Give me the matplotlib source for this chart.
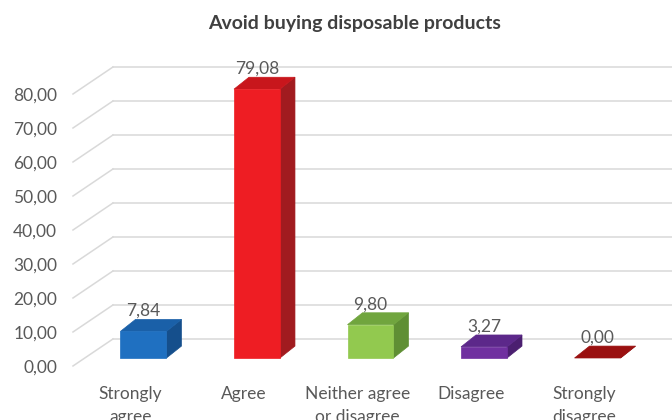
import matplotlib
matplotlib.use('Agg')
import matplotlib.pyplot as plt
from matplotlib.patches import Polygon

# data
categories = ['Strongly\nagree', 'Agree', 'Neither agree\nor disagree', 'Disagree', 'Strongly\ndisagree']
values = [7.84, 79.08, 9.80, 3.27, 0.00]
yticks = [0, 10, 20, 30, 40, 50, 60, 70, 80]
title = 'Avoid buying disposable products'

# colours: front, side, top
colors = [
    ('#1f70c1', '#154f8c', '#1a60a8'),
    ('#ee1d23', '#a11b1f', '#c8161c'),
    ('#92c94f', '#5f8f34', '#70a53e'),
    ('#7030a0', '#4b1f70', '#5c288a'),
    ('#a31313', '#7a0e0e', '#9a1010'),
]

plt.rcParams['font.family'] = ['Lato', 'DejaVu Sans']
txt = '#595959'
fs = 12.5

fig = plt.figure(figsize=(6.72, 4.2), dpi=100)
ax = fig.add_axes([0, 0, 1, 1])
ax.set_xlim(-1.264, 4.656)
ax.set_ylim(-18.24, 105.3)
ax.axis('off')

# fake 3d geometry (data units)
bar_w = 0.405
bar_dx, bar_dy = 0.132, 3.5
front_x, front_dy = -0.621, -2.35
back_x, back_dy = -0.269, 5.59

# walls / gridlines
for t in yticks:
    ax.plot([front_x, back_x], [t + front_dy, t + back_dy], color='#d9d9d9', lw=1.1, zorder=1)
    ax.plot([back_x, 4.7], [t + back_dy, t + back_dy], color='#d9d9d9', lw=1.1, zorder=1)
    ax.text(front_x - 0.14, t + front_dy - 0.6, f'{t:.2f}'.replace('.', ','), ha='right',
            va='center', fontsize=fs, color=txt)

# bars
for i, (v, (cf, cs, ct)) in enumerate(zip(values, colors)):
    x0, x1 = i - bar_w / 2, i + bar_w / 2
    side = [(x1, 0), (x1 + bar_dx, bar_dy), (x1 + bar_dx, v + bar_dy), (x1, v)]
    top = [(x0, v), (x1, v), (x1 + bar_dx, v + bar_dy), (x0 + bar_dx, v + bar_dy)]
    front = [(x0, 0), (x1, 0), (x1, v), (x0, v)]
    ax.add_patch(Polygon(side, closed=True, fc=cs, ec=cs, lw=0.5, zorder=3))
    ax.add_patch(Polygon(top, closed=True, fc=ct, ec=ct, lw=0.5, zorder=3))
    if v > 0:
        ax.add_patch(Polygon(front, closed=True, fc=cf, ec=cf, lw=0.5, zorder=4))
    ax.text(i, v + bar_dy + 0.1, f'{v:.2f}'.replace('.', ','), ha='center', va='bottom',
            fontsize=fs, color=txt, zorder=5)
    ax.text(i - 0.115, -8.3, categories[i], ha='center', va='top', fontsize=fs,
            color=txt, linespacing=1.5)

fig.text(0.528, 1 - 23 / 420, title, ha='center', va='center', fontsize=14,
         fontweight='bold', color='#404040')

fig.savefig('out.png', dpi=100)
